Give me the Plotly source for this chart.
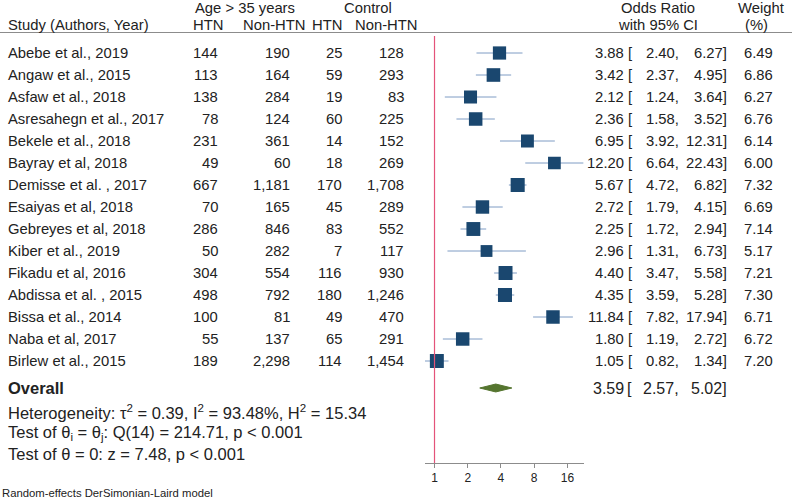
import math

import plotly.graph_objects as go

studies = [
    "Abebe et al., 2019", "Angaw et al., 2015", "Asfaw et al., 2018", "Asresahegn et al., 2017",
    "Bekele et al., 2018", "Bayray et al, 2018", "Demisse et al. , 2017", "Esaiyas et al, 2018",
    "Gebreyes et al, 2018", "Kiber et al., 2019", "Fikadu et al, 2016", "Abdissa et al. , 2015",
    "Bissa et al., 2014", "Naba et al, 2017", "Birlew et al., 2015",
]
age_htn = [144, 113, 138, 78, 231, 49, 667, 70, 286, 50, 304, 498, 100, 55, 189]
age_non_htn = [190, 164, 284, 124, 361, 60, 1181, 165, 846, 282, 554, 792, 81, 137, 2298]
ctrl_htn = [25, 59, 19, 60, 14, 18, 170, 45, 83, 7, 116, 180, 49, 65, 114]
ctrl_non_htn = [128, 293, 83, 225, 152, 269, 1708, 289, 552, 117, 930, 1246, 470, 291, 1454]
odds_ratio = [3.88, 3.42, 2.12, 2.36, 6.95, 12.20, 5.67, 2.72, 2.25, 2.96, 4.40, 4.35, 11.84, 1.80, 1.05]
ci_low = [2.40, 2.37, 1.24, 1.58, 3.92, 6.64, 4.72, 1.79, 1.72, 1.31, 3.47, 3.59, 7.82, 1.19, 0.82]
ci_high = [6.27, 4.95, 3.64, 3.52, 12.31, 22.43, 6.82, 4.15, 2.94, 6.73, 5.58, 5.28, 17.94, 2.72, 1.34]
weight = [6.49, 6.86, 6.27, 6.76, 6.14, 6.00, 7.32, 6.69, 7.14, 5.17, 7.21, 7.30, 6.71, 6.72, 7.20]
overall = (3.59, 2.57, 5.02)
x_ticks = [1, 2, 4, 8, 16]

W, H = 792, 501
ROW0, STEP = 53, 22  # pixel centre of the first study row, row spacing
FONT = "Arial, Liberation Sans, sans-serif"
NAVY = "#1a476f"
CI_BLUE = "#7f9cc4"
OLIVE = "#55752f"
RED = "#e4537a"


def row_of(px):
    return (px - ROW0) / STEP


def px(x):
    return x / W


rows = list(range(len(studies)))
overall_row = row_of(388)

fig = go.Figure()

# confidence interval whiskers
ci_x, ci_y = [], []
for r, lo, hi in zip(rows, ci_low, ci_high):
    ci_x += [lo, hi, None]
    ci_y += [r, r, None]
fig.add_trace(go.Scatter(x=ci_x, y=ci_y, mode="lines", line=dict(color=CI_BLUE, width=1),
                         hoverinfo="skip", showlegend=False))

fig.add_trace(go.Scatter(
    x=odds_ratio, y=rows, mode="markers",
    marker=dict(symbol="square", color=NAVY, opacity=1, size=[5.2 * math.sqrt(w) for w in weight],
                line=dict(width=0)),
    showlegend=False,
))

est, lo, hi = overall
half = 0.18
fig.add_trace(go.Scatter(
    x=[lo, est, hi, est, lo], y=[overall_row, overall_row - half, overall_row, overall_row + half, overall_row],
    mode="lines", fill="toself", fillcolor=OLIVE, line=dict(color=OLIVE, width=1),
    hoverinfo="skip", showlegend=False,
))

ann = []


def text(x, y, s, anchor="left", size=14.8, bold=False, color="#222222"):
    if bold:
        s = f"<b>{s}</b>"
    ann.append(dict(x=px(x), y=y, xref="paper", yref="y", text=s, showarrow=False,
                    xanchor=anchor, yanchor="middle", font=dict(family=FONT, size=size, color=color)))


# headers
text(245, row_of(7.5), "Age &gt; 35 years", "center")
text(368, row_of(7.5), "Control", "center")
text(658, row_of(7.5), "Odds Ratio", "center")
text(761, row_of(7.5), "Weight", "center")
text(6, row_of(25), "Study (Authors, Year)")
text(208, row_of(25), "HTN", "center")
text(274, row_of(25), "Non-HTN", "center")
text(327, row_of(25), "HTN", "center")
text(386, row_of(25), "Non-HTN", "center")
text(658, row_of(25), "with 95% CI", "center")
text(756, row_of(25), "(%)", "center")

for r in rows:
    text(6, r, studies[r])
    text(220, r, f"{age_htn[r]:,}", "right")
    text(292, r, f"{age_non_htn[r]:,}", "right")
    text(344, r, f"{ctrl_htn[r]:,}", "right")
    text(406, r, f"{ctrl_non_htn[r]:,}", "right")
    text(626, r, f"{odds_ratio[r]:.2f}", "right")
    text(626, r, "[", "left")
    text(681, r, f"{ci_low[r]:.2f},", "right")
    text(729, r, f"{ci_high[r]:.2f}]", "right")
    text(775, r, f"{weight[r]:.2f}", "right")

text(6, overall_row, "Overall", size=16.5, bold=True)
text(626, overall_row, f"{est:.2f}", "right", size=16)
text(625, overall_row, "[", "left", size=16)
text(681, overall_row, f"{lo:.2f},", "right", size=16)
text(729, overall_row, f"{hi:.2f}]", "right", size=16)

text(6, row_of(412), "Heterogeneity: τ<sup>2</sup> = 0.39, I<sup>2</sup> = 93.48%, H<sup>2</sup> = 15.34", size=16.5)
text(6, row_of(433), "Test of θ<sub>i</sub> = θ<sub>j</sub>: Q(14) = 214.71, p &lt; 0.001", size=16.5)
text(6, row_of(454), "Test of θ = 0: z = 7.48, p &lt; 0.001", size=16.5)
text(0, row_of(493), "Random-effects DerSimonian-Laird model", size=11.3)

axis_y = 1 - 463 / H
fig.update_layout(
    width=W, height=H,
    margin=dict(l=0, r=0, t=0, b=0),
    paper_bgcolor="white", plot_bgcolor="white",
    annotations=ann,
    shapes=[
        dict(type="line", xref="paper", yref="paper", x0=0, x1=1, y0=1 - 32.5 / H, y1=1 - 32.5 / H,
             line=dict(color="#8c8c8c", width=1)),
        dict(type="line", xref="x", yref="paper", x0=1, x1=1, y0=axis_y, y1=1 - 36 / H,
             line=dict(color=RED, width=1.2)),
    ],
    xaxis=dict(
        type="log", range=[math.log10(min(ci_low)), math.log10(max(ci_high))],
        domain=[px(425), px(583.6)], anchor="free", position=axis_y,
        showline=True, linecolor="#8c8c8c", linewidth=1,
        ticks="outside", ticklen=4, tickcolor="#8c8c8c",
        tickvals=x_ticks, ticktext=[str(t) for t in x_ticks],
        tickfont=dict(family=FONT, size=12, color="#222222"),
        showgrid=False, zeroline=False,
    ),
    yaxis=dict(range=[row_of(H), row_of(0)], domain=[0, 1], visible=False, showgrid=False),
)

fig.write_html("out.html", config={"displayModeBar": False},
               post_script="document.body.style.margin='0';")
